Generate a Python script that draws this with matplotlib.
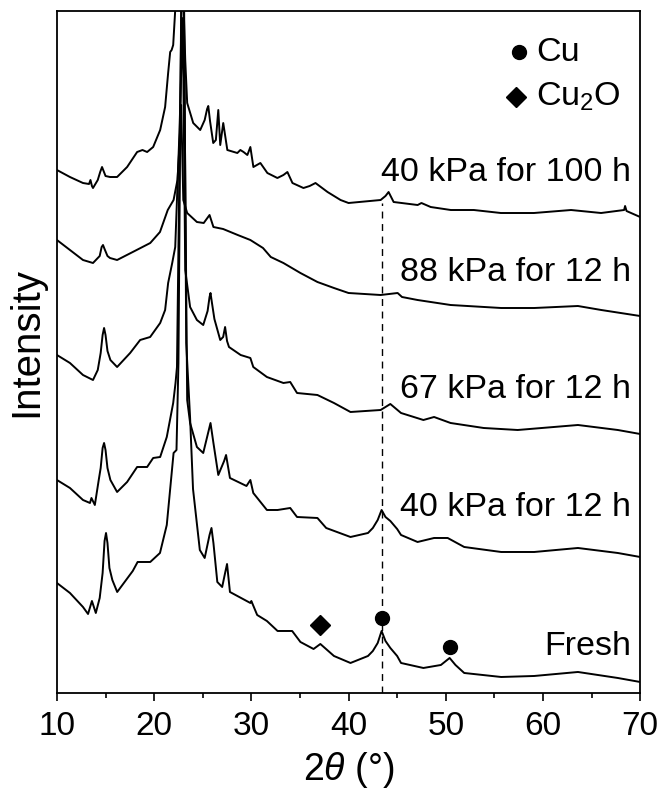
import numpy as np
import matplotlib
matplotlib.use('Agg')
import matplotlib.pyplot as plt

plt.rcParams['font.family'] = ['Liberation Sans', 'DejaVu Sans']
plt.rcParams['mathtext.fontset'] = 'custom'
plt.rcParams['mathtext.rm'] = 'Liberation Sans'
plt.rcParams['mathtext.it'] = 'Liberation Sans:italic'

# XRD patterns (2theta in degrees, intensity in a.u., already stacked)
tt_100h = [10.0, 11.34, 12.68, 13.3, 13.45, 13.6, 13.71, 14.2, 14.45, 14.64, 14.8, 15.0, 15.46,
           16.19, 17.22, 18.25, 18.8, 19.28, 19.9, 20.62, 21.13, 21.44, 21.65, 21.8, 21.96,
           22.27, 22.6, 22.99, 23.2, 23.4, 24.02, 24.74, 25.2, 25.45, 25.57, 25.75, 26.08,
           26.35, 26.6, 26.8, 27.11, 27.53, 28.56, 28.87, 29.2, 29.59, 29.9, 30.21, 30.93,
           31.65, 32.68, 33.3, 33.71, 34.23, 35.36, 36.0, 36.6, 37.84, 39.18, 40.0, 43.3,
           43.8, 44.12, 44.64, 47.11, 47.5, 48.45, 50.52, 52.89, 55.67, 59.07, 62.89, 65.98,
           68.35, 68.45, 68.6, 70.0]
int_100h = [523, 516, 510, 509, 513, 507, 505, 513, 521, 526, 522, 517, 516,
            516, 526, 541, 543, 541, 546, 563, 586, 620, 641, 643, 648,
            700, 780, 700, 633, 590, 570, 563, 573, 584, 587, 572, 550,
            553, 583, 548, 570, 543, 540, 543, 541, 538, 546, 526, 530,
            520, 515, 518, 521, 510, 505, 507, 510, 501, 493, 490, 493,
            497, 501, 491, 488, 490, 486, 483, 483, 480, 480, 483, 480,
            483, 487, 482, 476]

tt_88 = [10.0, 11.34, 12.68, 13.71, 14.4, 14.6, 14.74, 14.9, 15.2, 15.46, 16.19, 17.8,
         19.6, 20.6, 21.4, 22.0, 22.4, 22.6, 22.78, 23.0, 23.4, 24.4, 25.1, 25.7, 26.1,
         27.1, 28.6, 29.9, 31.2, 32.0, 33.3, 35.05, 36.8, 38.5, 40.0, 43.3, 45.05, 45.5,
         47.1, 50.5, 55.7, 59.1, 63.6, 66.0, 70.0]
int_88 = [453, 443, 433, 430, 437, 446, 448, 444, 437, 435, 433, 441,
          450, 461, 483, 493, 513, 546, 588, 493, 480, 471, 470, 478, 466,
          464, 458, 453, 445, 436, 430, 420, 411, 405, 400, 398, 400, 396,
          393, 388, 385, 385, 387, 383, 377]

tt_67 = [10.0, 11.34, 12.68, 13.71, 14.2, 14.5, 14.7, 14.85, 15.0, 15.2, 15.5, 16.19,
         17.53, 18.56, 19.59, 20.62, 21.13, 21.44, 21.86, 22.17, 22.6, 22.95, 23.2, 23.7,
         24.4, 25.05, 25.5, 25.7, 25.8, 25.95, 26.2, 26.8, 27.1, 27.3, 27.5, 27.7, 28.9,
         29.9, 30.2, 31.6, 33.3, 34.0, 34.7, 36.8, 38.5, 40.2, 43.3, 44.3, 45.4, 47.7,
         48.8, 50.5, 53.9, 57.4, 63.6, 67.7, 70.0]
int_67 = [338, 330, 318, 313, 323, 340, 358, 365, 358, 342, 333, 326,
          340, 353, 356, 370, 383, 410, 430, 446, 560, 675, 423, 386,
          373, 368, 382, 396, 400, 390, 374, 353, 356, 366, 352, 346, 338,
          335, 326, 316, 310, 311, 300, 298, 290, 281, 283, 289, 280, 273,
          276, 270, 265, 263, 268, 263, 259]

tt_40 = [10.0, 11.34, 12.68, 13.4, 13.55, 13.9, 14.3, 14.5, 14.7, 14.85, 15.0, 15.2, 15.5,
         16.19, 17.22, 18.25, 19.28, 19.9, 20.62, 21.3, 21.96, 22.2, 22.35, 22.95, 23.4,
         23.7, 24.4, 25.05, 25.5, 25.8, 26.1, 26.6, 27.2, 27.4, 27.8, 29.5, 29.9, 30.2,
         31.6, 32.7, 34.0, 34.7, 36.8, 37.7, 40.2, 42.0, 42.5, 43.0, 43.4, 43.8, 44.3,
         45.0, 45.4, 47.1, 48.8, 50.2, 51.9, 55.7, 59.1, 63.6, 67.7, 70.0]
int_40 = [213, 205, 193, 190, 195, 188, 213, 225, 245, 250, 243, 225, 213,
          201, 211, 226, 226, 235, 236, 256, 290, 310, 326, 800, 293,
          270, 246, 240, 258, 270, 250, 218, 232, 238, 215, 207, 213, 200,
          183, 183, 185, 176, 175, 165, 156, 160, 165, 173, 183, 176, 172,
          164, 158, 151, 155, 155, 146, 141, 141, 145, 140, 136]

tt_fresh = [10.0, 11.34, 12.68, 13.2, 13.6, 14.0, 14.4, 14.7, 14.9, 15.05, 15.2, 15.4, 15.7,
            16.2, 17.8, 18.3, 19.6, 20.6, 21.3, 22.0, 22.3, 22.5, 22.95, 23.3, 23.7, 24.0,
            24.7, 25.2, 25.7, 25.9, 26.1, 26.5, 27.0, 27.3, 27.5, 27.8, 29.9, 30.0, 30.6,
            31.6, 32.7, 34.2, 35.05, 36.4, 37.1, 38.5, 40.2, 42.0, 42.5, 43.0, 43.4, 43.8,
            44.3, 45.0, 45.4, 47.7, 49.5, 50.4, 51.0, 51.9, 55.7, 59.1, 63.6, 67.7, 70.0]
int_fresh = [110, 100, 86, 79, 92, 80, 95, 120, 152, 160, 150, 125, 113,
             101, 122, 131, 131, 140, 168, 240, 243, 330, 900, 350, 275, 204,
             143, 135, 158, 165, 150, 111, 106, 120, 129, 101, 90, 92, 78,
             72, 62, 62, 51, 44, 49, 37, 30, 37, 42, 50, 62, 52,
             45, 37, 30, 25, 28, 35, 28, 20, 16, 17, 21, 15, 11]

labels = ['40 kPa for 100 h', '88 kPa for 12 h', '67 kPa for 12 h', '40 kPa for 12 h', 'Fresh']
label_y = [521, 421, 303, 185, 46]

# phase markers on the fresh pattern
cu_tt = [43.4, 50.4]
cu_int = [75, 46]
cu2o_tt = [37.1]
cu2o_int = [68]

fig = plt.figure(figsize=(6.62, 7.98), dpi=100)
ax = fig.add_axes([0.086, 0.1316, 0.881, 0.8546])

for tt, inten in [(tt_100h, int_100h), (tt_88, int_88), (tt_67, int_67),
                  (tt_40, int_40), (tt_fresh, int_fresh)]:
    ax.plot(tt, inten, color='black', lw=1.4)

for lab, y in zip(labels, label_y):
    ax.text(69.1, y, lab, ha='right', va='center', fontsize=24.5)

# Cu(111) reference line
ax.plot([43.4, 43.4], [0, 490], color='black', lw=1.0, ls=(0, (5, 4)))

ax.plot(cu_tt, cu_int, 'o', color='black', ms=10)
ax.plot(cu2o_tt, cu2o_int, 'D', color='black', ms=10)

# legend drawn by hand like the original
ax.plot([57.5], [641], 'o', color='black', ms=10)
ax.plot([57.2], [596], 'D', color='black', ms=10)
ax.text(59.3, 641, 'Cu', va='center', fontsize=24.5)
ax.text(59.3, 596, 'Cu$_2$O', va='center', fontsize=24.5)

ax.set_xlim(10, 70)
ax.set_ylim(0, 682)
ax.set_xticks(np.arange(10, 71, 10))
ax.set_xticks(np.arange(15, 70, 10), minor=True)
ax.set_yticks([])
ax.tick_params(axis='x', which='major', direction='out', length=6, width=1.2, labelsize=24, pad=7)
ax.tick_params(axis='x', which='minor', direction='out', length=3.5, width=1.2)
for s in ax.spines.values():
    s.set_linewidth(1.3)

ax.set_xlabel(r'2$\it{\theta}$ (°)', fontsize=27, labelpad=6)
ax.set_ylabel('Intensity', fontsize=29, labelpad=6)
ax.yaxis.set_label_coords(-0.02, 0.515)

fig.savefig('out.png', dpi=100)
